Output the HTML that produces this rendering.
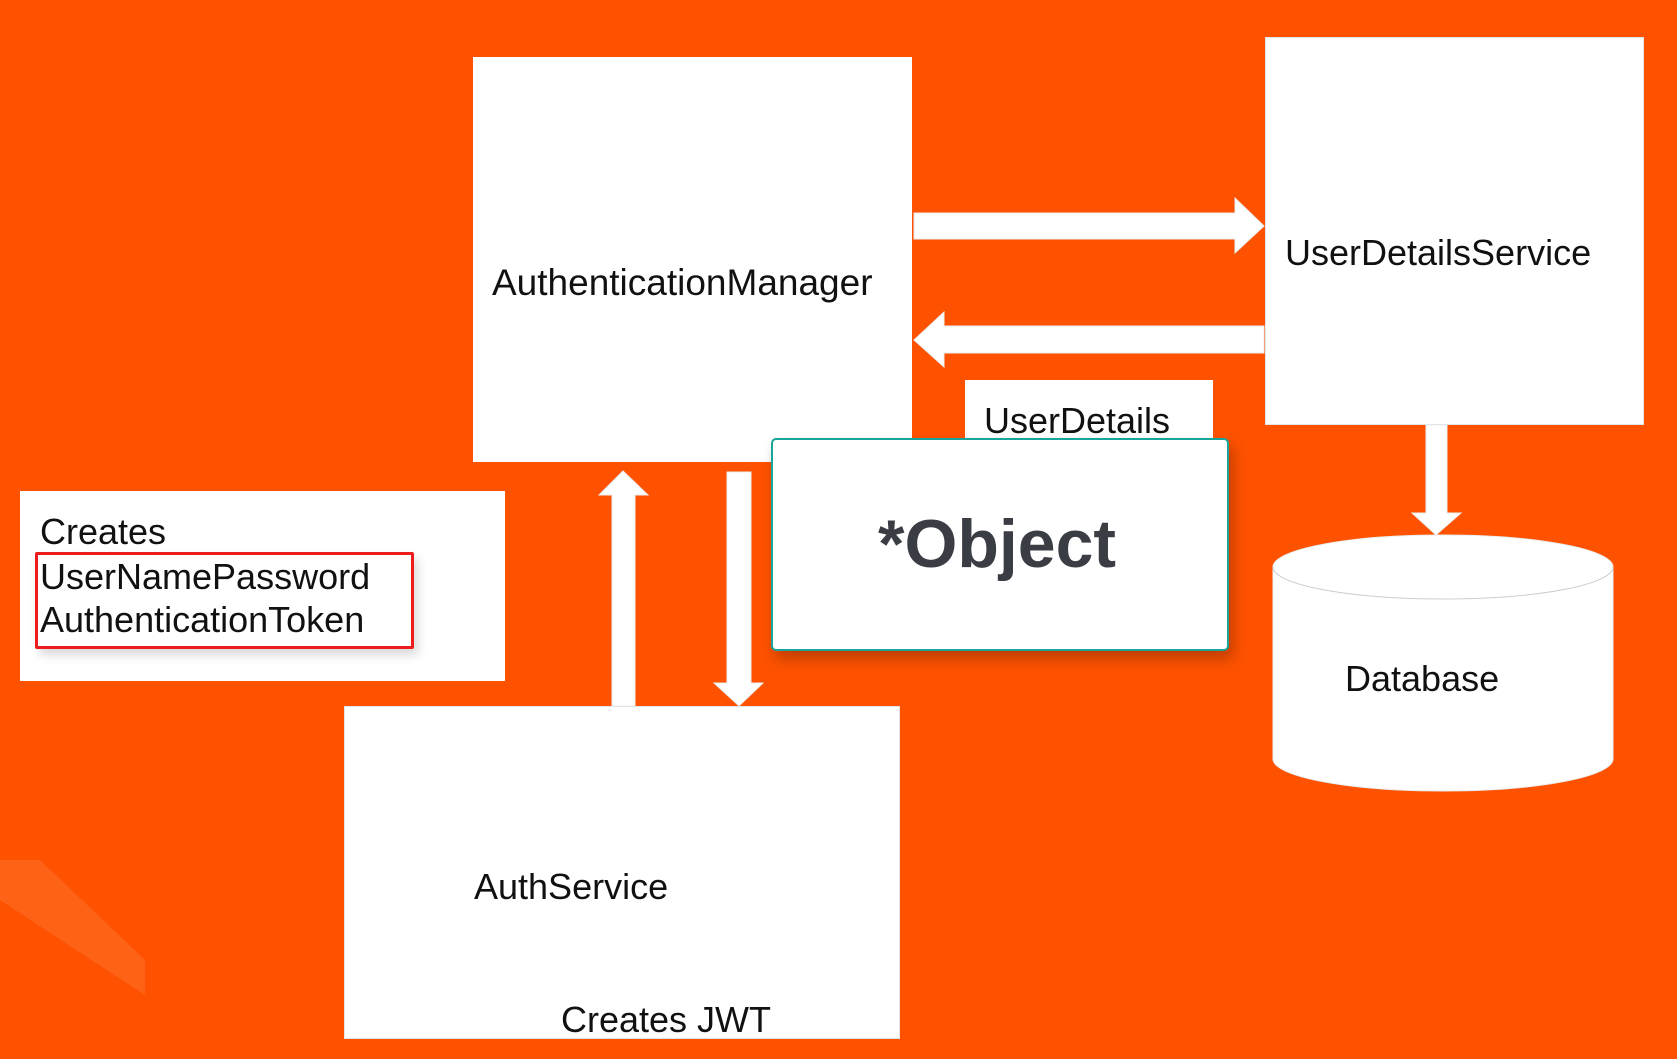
<!DOCTYPE html>
<html><head><meta charset="utf-8"><style>
html,body{margin:0;padding:0}
body{width:1677px;height:1059px;background:#fe5200;position:relative;overflow:hidden;font-family:"Liberation Sans",sans-serif;}
.b{position:absolute;background:#fff;}
.t{position:absolute;white-space:nowrap;color:#111;line-height:1}
</style></head><body>
<svg width="1677" height="1059" style="position:absolute;left:0;top:0">
<polygon points="0,860 40,860 145,960 145,995 0,900" fill="#ff7a3a" opacity="0.4"/>
<g fill="#fff" stroke="#e8eef0" stroke-width="1">
<polygon points="914,213 1235,213 1235,198 1264,226 1235,253 1235,239 914,239"/>
<polygon points="1264,326 944,326 944,312 914,340 944,367 944,353 1264,353"/>
<polygon points="612,706 612,495 599,495 623,471 648,495 635,495 635,706"/>
<polygon points="727,472 751,472 751,683 763,683 739,706 714,683 727,683"/>
<polygon points="1426,425 1447,425 1447,513 1461,513 1436,535 1412,513 1426,513"/>
<path d="M1273,567 L1273,759 A170,32 0 0 0 1613,759 L1613,567 A170,32 0 0 0 1273,567 Z"/>
<path d="M1273,567 A170,32 0 0 0 1613,567" fill="none" stroke="#ccc"/>
</g>
</svg>
<div class="b" style="left:473px;top:57px;width:439px;height:405px"></div>
<div class="b" style="left:1265px;top:37px;width:379px;height:388px;border:1px solid #e0e6e8;box-sizing:border-box"></div>
<div class="b" style="left:965px;top:380px;width:248px;height:58px"></div>
<div class="b" style="left:20px;top:491px;width:485px;height:190px"></div>
<div class="b" style="left:344px;top:706px;width:556px;height:333px;border:1px solid #e0e6e8;box-sizing:border-box"></div>
<div style="position:absolute;left:35px;top:552px;width:379px;height:97px;border:3px solid #ee1c1c;box-sizing:border-box;border-radius:2px;box-shadow:4px 6px 10px rgba(0,0,0,.15)"></div>
<div class="b" style="left:771px;top:438px;width:458px;height:213px;border:2px solid #1aa59a;border-radius:5px;box-sizing:border-box;box-shadow:4px 8px 14px rgba(0,0,0,.25)"></div>
<div class="t" style="left:492px;top:264px;font-size:37px">AuthenticationManager</div>
<div class="t" style="left:1285px;top:235px;font-size:36px">UserDetailsService</div>
<div class="t" style="left:984px;top:403px;font-size:36px">UserDetails</div>
<div class="t" style="left:878px;top:510px;font-size:68px;font-weight:bold;color:#3b3d44">*Object</div>
<div class="t" style="left:40px;top:514px;font-size:36px">Creates</div>
<div class="t" style="left:40px;top:559px;font-size:36px">UserNamePassword</div>
<div class="t" style="left:40px;top:602px;font-size:36px">AuthenticationToken</div>
<div class="t" style="left:474px;top:869px;font-size:36px">AuthService</div>
<div class="t" style="left:561px;top:1002px;font-size:36px">Creates JWT</div>
<div class="t" style="left:1345px;top:661px;font-size:36px">Database</div>
</body></html>
